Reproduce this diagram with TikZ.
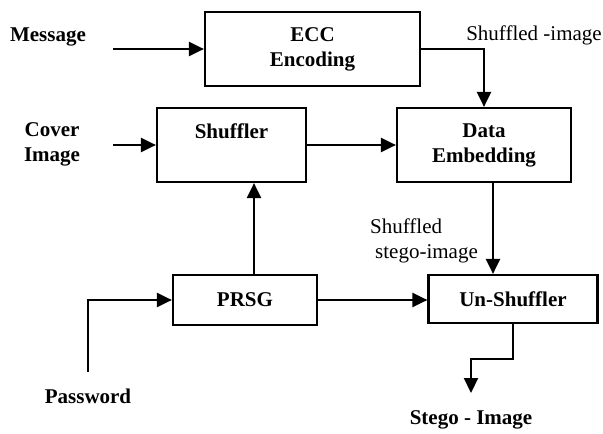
\documentclass[tikz,border=0pt]{standalone}
\usepackage{fontspec}
\setmainfont{Liberation Serif}
\usepackage{tikz}
\usetikzlibrary{
  arrows.meta,
  positioning
}

\begin{document}
\begin{tikzpicture}[
  x=1pt, y=-1pt,
  blk/.style={draw=black, line width=2.2pt, inner sep=0pt, align=center,
    font=\fontsize{21}{25}\selectfont\bfseries},
  inp/.style={font=\fontsize{21}{25}\selectfont\bfseries, align=center},
  note/.style={font=\fontsize{21}{25}\selectfont, align=left},
  flow/.style={draw=black, line width=2.2pt, -{Triangle[length=15pt,width=14pt]}}
]
\useasboundingbox (0,0) rectangle (603,434);

% blocks
\node[blk, minimum width=215pt, minimum height=74pt] (ecc) at (312.5,49) {ECC\\Encoding};
\node[blk, minimum width=149pt, minimum height=74pt] (shuf) at (231.5,145) {Shuffler\\[2pt]~};
\node[blk, minimum width=174pt, minimum height=74pt] (embed) at (484,145) {Data\\Embedding};
\node[blk, minimum width=144pt, minimum height=50pt] (prsg) at (245,300) {PRSG};
\node[blk, minimum width=169pt, minimum height=48pt] (unshuf) at (513,299) {Un-Shuffler};

% inputs and outputs
\node[inp] (msg) at (48,37) {Message};
\node[inp] (cover) at (52,144) {Cover\\Image};
\node[inp] (pass) at (88,396) {Password};
\node[inp] (stego) at (471,420) {Stego - Image};
\node[note] (shimg) at (534,35) {Shuffled -image};
\node[note] (shstego) at (424,241) {Shuffled\\\hspace{5pt}stego-image};

\coordinate (msgin) at (113,49);
\coordinate (coverin) at (113,145);
\coordinate (passin) at (88,372);
\coordinate (stegoout) at (471,393);

% arrows
\draw[flow] (msgin) -- (ecc.west);
\draw[flow] (coverin) -- (shuf.west);
\draw[flow] (shuf.east) -- (embed.west);
\draw[flow] (ecc.east) -| (embed.north);
\draw[flow] ([xshift=9pt]embed.south) -- ([xshift=9pt]embed.south |- unshuf.north);
\draw[flow] ([xshift=9pt]prsg.north) -- ([xshift=9pt]prsg.north |- shuf.south);
\draw[flow] (prsg.east) -- (prsg.east -| unshuf.west);
\draw[flow] (passin) |- (prsg.west);
\draw[flow] (unshuf.south) -- ++(0,35) -| (stegoout);

\end{tikzpicture}
\end{document}
